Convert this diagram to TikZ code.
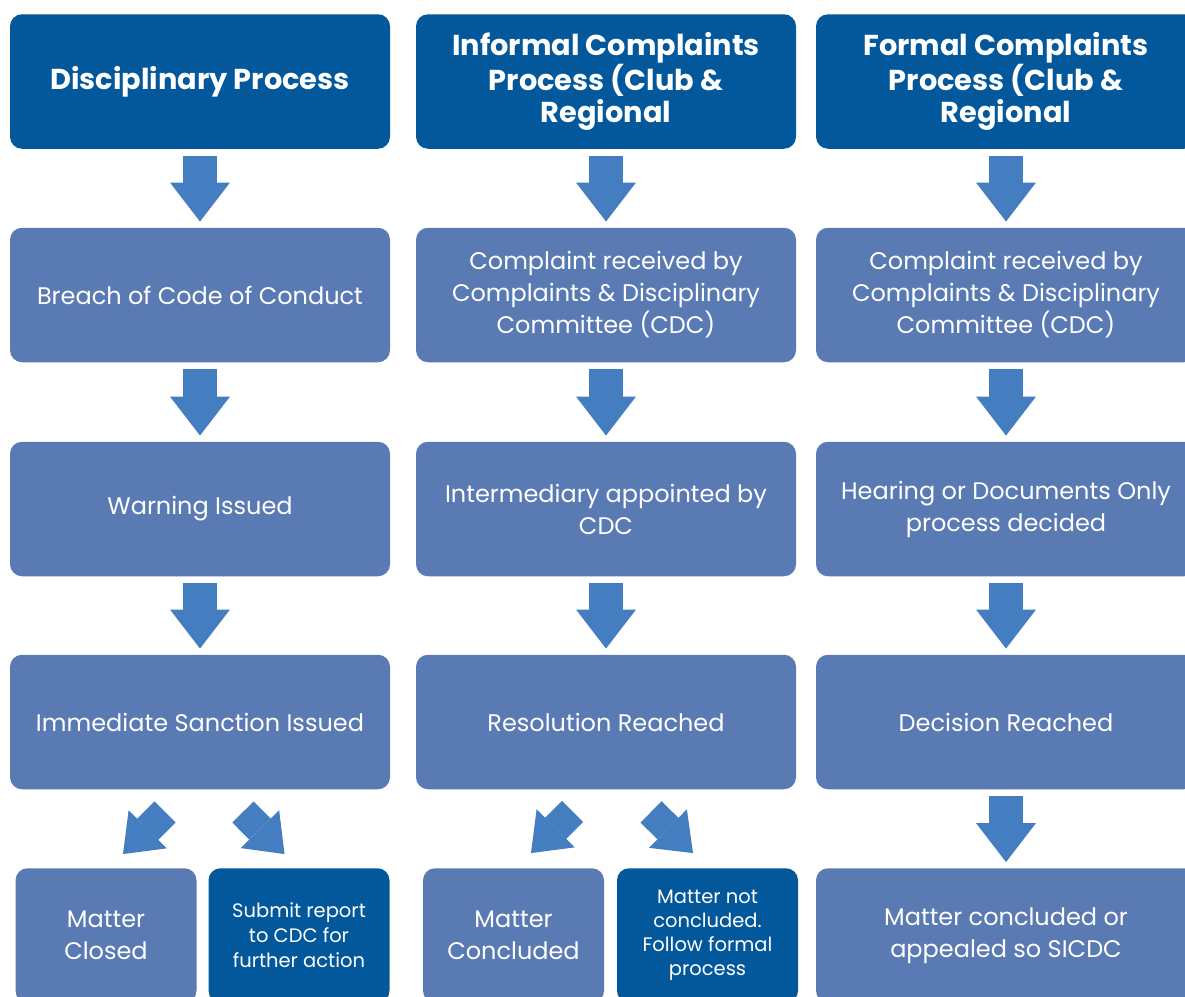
\documentclass[tikz,border=0pt]{standalone}
\usepackage{fontspec}
\setmainfont{Poppins}
\usetikzlibrary{arrows.meta}
\definecolor{headblue}{HTML}{03589B}
\definecolor{boxblue}{HTML}{5A7AB3}
\definecolor{arrowblue}{HTML}{447EC1}
\tikzset{>=Triangle}

\begin{document}
\begin{tikzpicture}[x=1pt,y=-1pt,
    headbox/.style={fill=headblue,rounded corners=12pt,minimum width=380pt,minimum height=134.5pt,
      inner sep=0pt,align=center,text=white,font=\fontsize{28.8}{32.5}\selectfont\bfseries},
    stepbox/.style={fill=boxblue,rounded corners=12pt,minimum width=380pt,minimum height=134.5pt,
      inner sep=0pt,align=center,text=white,font=\fontsize{24}{32}\selectfont},
    endbox/.style={stepbox,minimum width=181pt},
    darkend/.style={endbox,fill=headblue,font=\fontsize{19.5}{25}\selectfont},
    flow/.style={draw=arrowblue,line width=34pt,-{Triangle[width=60pt,length=39pt,line width=0pt]},
      shorten <=7pt,shorten >=6pt},
    split/.style={draw=arrowblue,line width=30pt,-{Triangle[width=54pt,length=35pt,line width=0pt]}}]
  \clip (0,0) rectangle (1185,996);
  \useasboundingbox (0,0) rectangle (1185,996);
  % column heads
  \node[headbox] (dhead) at (200,81.5) {Disciplinary Process};
  \node[headbox] (ihead) at (606,81.5) {Informal Complaints\\Process (Club \&\\Regional};
  \node[headbox] (fhead) at (1006,81.5) {Formal Complaints\\Process (Club \&\\Regional};
  % disciplinary
  \node[stepbox] (breach) at (200,295) {Breach of Code of Conduct};
  \node[stepbox] (warn) at (200,509) {Warning Issued};
  \node[stepbox] (sanction) at (200,722) {Immediate Sanction Issued};
  \node[endbox] (closed) at (106,935.5) {Matter\\Closed};
  \node[darkend] (report) at (299,935.5) {Submit report\\to CDC for\\further action};
  % informal
  \node[stepbox] (irecv) at (606,295) {Complaint received by\\Complaints \& Disciplinary\\Committee (CDC)};
  \node[stepbox] (inter) at (606,509) {Intermediary appointed by\\CDC};
  \node[stepbox] (resol) at (606,722) {Resolution Reached};
  \node[endbox] (concl) at (513.5,935.5) {Matter\\Concluded};
  \node[darkend,font=\fontsize{19.5}{24}\selectfont] (notconcl) at (707.5,935.5) {Matter not\\concluded.\\Follow formal\\process};
  % formal
  \node[stepbox] (frecv) at (1006,295) {Complaint received by\\Complaints \& Disciplinary\\Committee (CDC)};
  \node[stepbox] (hear) at (1006,509) {Hearing or Documents Only\\process decided};
  \node[stepbox] (decis) at (1006,722) {Decision Reached};
  \node[stepbox] (final) at (1006,935.5) {Matter concluded or\\appealed so SICDC};

  \draw[flow] (dhead) -- (breach);
  \draw[flow] (breach) -- (warn);
  \draw[flow] (warn) -- (sanction);
  \draw[flow] (ihead) -- (irecv);
  \draw[flow] (irecv) -- (inter);
  \draw[flow] (inter) -- (resol);
  \draw[flow] (fhead) -- (frecv);
  \draw[flow] (frecv) -- (hear);
  \draw[flow] (hear) -- (decis);
  \draw[flow] (decis) -- (final);
  \draw[split] ([shift={(-35,22.5)}]sanction.south) -- ([shift={(17,-14)}]closed.north);
  \draw[split] ([shift={(43,22.5)}]sanction.south) -- ([shift={(-14.5,-14)}]report.north);
  \draw[split] ([shift={(-33.5,22)}]resol.south) -- ([shift={(17.5,-15)}]concl.north);
  \draw[split] ([shift={(45,22.5)}]resol.south) -- ([shift={(-14.5,-15)}]notconcl.north);
\end{tikzpicture}
\end{document}
